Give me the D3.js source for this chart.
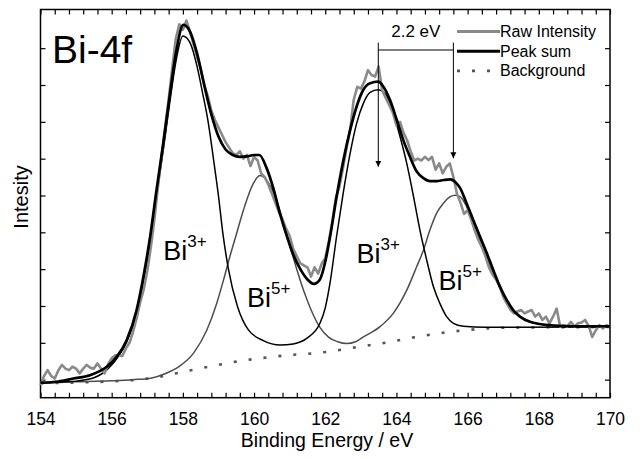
<!DOCTYPE html>
<html>
<head>
<meta charset="utf-8">
<script src="https://cdn.jsdelivr.net/npm/d3@7"></script>
<style>
  body { margin: 0; background: #fff; }
  svg text { font-family: Arial, "Liberation Sans", sans-serif; fill: #000; }
</style>
</head>
<body>
<svg id="chart" width="642" height="459"></svg>
<script>
// x axis: binding energy (eV), y axis: intensity (arbitrary units, no labels)
const energyLabels = [154, 156, 158, 160, 162, 164, 166, 168, 170];
const minorStep = 0.4;
const intensityTicks = [0, 1, 2, 3, 4, 5, 6, 7, 8, 9];

// measured spectrum, [energy, intensity]
const rawIntensity = [
  [154.0, -0.15], [154.1, 0.1], [154.2, 0.26], [154.3, 0.1], [154.4, 0.03], [154.5, 0.25], [154.6, 0.4], [154.7, 0.3],
  [154.8, 0.26], [154.9, 0.35], [155.0, 0.3], [155.1, 0.17], [155.2, 0.3], [155.3, 0.4], [155.4, 0.32], [155.5, 0.3],
  [155.6, 0.44], [155.7, 0.3], [155.8, 0.17], [155.9, 0.42], [156.0, 0.58], [156.1, 0.66], [156.2, 0.66], [156.3, 0.64],
  [156.4, 0.85], [156.5, 1.0], [156.6, 1.3], [156.7, 1.66], [156.8, 2.1], [156.9, 2.45], [157.0, 2.95], [157.1, 3.6],
  [157.2, 4.35], [157.3, 5.25], [157.4, 6.05], [157.5, 6.85], [157.6, 7.6], [157.7, 8.45], [157.8, 9.25], [157.9, 9.65],
  [158.0, 9.5], [158.1, 9.75], [158.2, 9.45], [158.3, 9.1], [158.4, 8.75], [158.5, 8.45], [158.6, 8.0], [158.7, 7.7],
  [158.8, 7.3], [158.9, 7.05], [159.0, 6.85], [159.1, 6.65], [159.2, 6.45], [159.3, 6.3], [159.4, 6.15], [159.5, 6.1],
  [159.6, 6.2], [159.7, 6.0], [159.8, 6.1], [159.9, 5.8], [160.0, 6.05], [160.1, 5.95], [160.2, 5.6], [160.3, 5.5],
  [160.4, 5.3], [160.5, 5.05], [160.6, 4.8], [160.7, 4.55], [160.8, 4.35], [160.9, 4.1], [161.0, 3.9], [161.1, 3.55],
  [161.2, 3.35], [161.3, 3.16], [161.4, 3.1], [161.5, 3.05], [161.6, 2.8], [161.7, 3.05], [161.8, 2.88], [161.9, 3.15],
  [162.0, 3.3], [162.1, 3.75], [162.2, 4.3], [162.3, 4.95], [162.4, 5.25], [162.5, 5.75], [162.6, 6.3], [162.7, 6.8],
  [162.8, 7.6], [162.9, 7.95], [163.0, 7.9], [163.1, 8.1], [163.2, 8.4], [163.3, 8.27], [163.4, 8.23], [163.5, 8.5],
  [163.6, 7.85], [163.7, 7.65], [163.8, 7.45], [163.9, 7.25], [164.0, 6.9], [164.1, 7.0], [164.2, 6.7], [164.3, 6.5],
  [164.4, 6.2], [164.5, 5.95], [164.6, 6.0], [164.7, 5.95], [164.8, 6.05], [164.9, 5.96], [165.0, 6.05], [165.1, 5.7],
  [165.2, 5.87], [165.3, 5.6], [165.4, 5.78], [165.5, 5.87], [165.6, 5.5], [165.7, 5.05], [165.8, 4.8], [165.9, 4.5],
  [166.0, 4.6], [166.1, 4.35], [166.2, 4.05], [166.3, 3.8], [166.4, 3.6], [166.5, 3.35], [166.6, 3.05], [166.7, 2.85],
  [166.8, 2.72], [166.9, 2.55], [167.0, 2.25], [167.1, 2.07], [167.2, 1.9], [167.3, 1.8], [167.4, 1.85], [167.5, 1.89],
  [167.6, 1.8], [167.7, 1.85], [167.8, 1.89], [167.9, 1.71], [168.0, 1.8], [168.1, 1.62], [168.2, 1.71], [168.3, 1.53],
  [168.4, 1.71], [168.5, 1.93], [168.6, 1.44], [168.7, 1.48], [168.8, 1.44], [168.9, 1.57], [169.0, 1.44], [169.1, 1.53],
  [169.2, 1.55], [169.3, 1.62], [169.4, 1.46], [169.5, 1.16], [169.6, 1.34], [169.7, 1.48], [169.8, 1.39], [169.9, 1.48],
  [170.0, 1.44]
];

// fitted envelope
const peakSum = [
  [154.0, -0.08], [154.5, -0.05], [154.92, 0.03], [155.39, 0.12], [155.86, 0.35], [156.14, 0.62], [156.42, 1.07],
  [156.7, 1.89], [156.89, 2.79], [157.08, 3.88], [157.26, 5.15], [157.45, 6.42], [157.64, 7.78], [157.82, 8.95],
  [158.01, 9.63], [158.2, 9.45], [158.4, 8.85], [158.6, 8.0], [158.8, 7.2], [159.0, 6.6], [159.2, 6.25], [159.4, 6.1],
  [159.6, 6.05], [159.8, 6.06], [160.0, 6.1], [160.15, 6.1], [160.35, 5.75], [160.54, 5.2], [160.73, 4.5],
  [160.92, 3.9], [161.1, 3.4], [161.3, 3.0], [161.5, 2.72], [161.68, 2.6], [161.85, 2.72], [162.0, 3.2],
  [162.13, 3.85], [162.32, 4.97], [162.51, 5.96], [162.7, 6.78], [162.88, 7.41], [163.07, 7.87], [163.26, 8.05],
  [163.49, 8.09], [163.63, 7.96], [163.82, 7.59], [164.01, 7.05], [164.19, 6.51], [164.38, 6.05], [164.57, 5.65],
  [164.76, 5.47], [164.94, 5.39], [165.13, 5.39], [165.32, 5.42], [165.51, 5.44], [165.69, 5.33], [165.79, 5.2],
  [165.97, 4.79], [166.16, 4.33], [166.35, 3.88], [166.54, 3.43], [166.72, 2.98], [166.91, 2.52], [167.1, 2.16],
  [167.28, 1.89], [167.47, 1.71], [167.75, 1.57], [168.03, 1.51], [168.41, 1.47], [168.97, 1.45], [170.0, 1.45]
];

// Bi3+ doublet component (on background)
const bi3Component = [
  [154.0, -0.09], [155.0, -0.04], [155.5, 0.05], [155.9, 0.3], [156.2, 0.65], [156.42, 1.02], [156.7, 1.8],
  [156.89, 2.68], [157.08, 3.74], [157.26, 4.98], [157.45, 6.24], [157.64, 7.58], [157.82, 8.72], [158.0, 9.33],
  [158.2, 9.15], [158.4, 8.5], [158.55, 7.8], [158.71, 7.0], [158.86, 5.99], [159.0, 4.99], [159.12, 4.0],
  [159.28, 3.0], [159.53, 2.0], [159.84, 1.35], [160.26, 1.06], [160.73, 0.94], [161.1, 0.97], [161.48, 1.12],
  [161.85, 1.53], [162.0, 1.95], [162.13, 2.6], [162.32, 3.9], [162.51, 5.1], [162.7, 6.15], [162.88, 6.95],
  [163.07, 7.5], [163.26, 7.8], [163.49, 7.87], [163.73, 7.69], [163.91, 7.23], [164.1, 6.6], [164.29, 5.87],
  [164.48, 4.97], [164.66, 4.06], [164.85, 3.25], [165.04, 2.52], [165.22, 2.07], [165.41, 1.71], [165.6, 1.53],
  [165.88, 1.45], [166.5, 1.42], [170.0, 1.43]
];

// Bi5+ doublet component (on background)
const bi5Component = [
  [154.0, -0.09], [155.0, -0.06], [156.0, -0.03], [156.6, 0.0], [157.1, 0.04], [157.5, 0.16], [157.9, 0.36],
  [158.3, 0.72], [158.67, 1.34], [158.95, 2.07], [159.14, 2.7], [159.32, 3.34], [159.51, 3.97], [159.7, 4.6],
  [159.98, 5.33], [160.17, 5.54], [160.4, 5.35], [160.6, 4.95], [160.8, 4.35], [161.0, 3.65], [161.2, 3.0],
  [161.4, 2.4], [161.6, 1.9], [161.85, 1.42], [162.1, 1.15], [162.35, 1.03], [162.6, 0.98], [162.85, 1.03],
  [163.07, 1.16], [163.54, 1.44], [163.91, 1.8], [164.29, 2.43], [164.57, 3.07], [164.76, 3.52], [164.94, 4.06],
  [165.13, 4.52], [165.32, 4.79], [165.51, 4.97], [165.65, 5.01], [165.79, 4.97], [165.97, 4.7], [166.16, 4.24],
  [166.35, 3.79], [166.54, 3.34], [166.72, 2.88], [166.91, 2.48], [167.1, 2.16], [167.28, 1.89], [167.47, 1.71],
  [167.75, 1.57], [168.03, 1.51], [168.41, 1.47], [170.0, 1.45]
];

// Shirley-type background
const background = [
  [154.0, -0.1], [155.0, -0.08], [156.0, -0.05], [156.8, 0.0], [157.3, 0.07], [157.6, 0.13], [158.0, 0.21],
  [158.5, 0.31], [159.0, 0.4], [159.5, 0.49], [160.0, 0.56], [160.5, 0.62], [161.0, 0.67], [161.5, 0.7],
  [162.0, 0.75], [162.5, 0.82], [163.0, 0.9], [163.5, 0.97], [164.0, 1.06], [164.5, 1.15], [165.0, 1.23],
  [165.5, 1.3], [166.0, 1.35], [166.5, 1.39], [167.0, 1.41], [168.0, 1.42], [170.0, 1.43]
];

// peak labels: [energy, intensity, charge]
const peakLabels = [[157.45, 3.25, "3+"], [159.8, 1.98, "5+"], [162.88, 3.16, "3+"], [165.18, 2.43, "5+"]];

// spin-orbit splitting marker: energies of the two Bi3+ lines, top/bar/tips
const splitEnergies = [163.49, 165.6];
const splitTop = 9.15, splitBar = 8.95, splitTips = [5.78, 6.01];

const svg = d3.select('#chart');
const x = d3.scaleLinear().domain([154, 170]).range([40.5, 610]);
const y = d3.scaleLinear().domain([-0.49, 10.05]).range([397.7, 9.5]);

const minorTicks = d3.range(0, 41).map(i => 154 + i * minorStep);
const isLabel = d => energyLabels.some(v => Math.abs(v - d) < 1e-6);

// axes
svg.append('g')
    .attr('transform', `translate(0,${y.range()[0]})`)
    .call(d3.axisBottom(x).tickValues(minorTicks)
        .tickFormat(d => isLabel(d) ? d3.format('d')(Math.round(d)) : '')
        .tickSizeInner(-5).tickSizeOuter(0).tickPadding(15))
    .call(g => g.selectAll('text').style('font-size', '17.5px'));

svg.append('g')
    .attr('transform', `translate(0,${y.range()[1]})`)
    .call(d3.axisTop(x).tickValues(minorTicks).tickFormat('').tickSizeInner(-5).tickSizeOuter(0));

svg.append('g')
    .attr('transform', `translate(${x.range()[0]},0)`)
    .call(d3.axisLeft(y).tickValues(intensityTicks).tickFormat('').tickSizeInner(-5).tickSizeOuter(0));

svg.append('g')
    .attr('transform', `translate(${x.range()[1]},0)`)
    .call(d3.axisRight(y).tickValues(intensityTicks).tickFormat('').tickSizeInner(-5).tickSizeOuter(0));

svg.selectAll('.domain').remove();
svg.selectAll('.tick line').attr('stroke', '#000').attr('stroke-width', 1.2);

svg.append('rect')
    .attr('x', x.range()[0]).attr('y', y.range()[1])
    .attr('width', x.range()[1] - x.range()[0])
    .attr('height', y.range()[0] - y.range()[1])
    .attr('fill', 'none').attr('stroke', '#000').attr('stroke-width', 1.5);

// curves
const smooth = d3.line().x(d => x(d[0])).y(d => y(d[1])).curve(d3.curveMonotoneX);
const jagged = d3.line().x(d => x(d[0])).y(d => y(d[1]));

svg.append('path').datum(background).attr('d', jagged)
    .attr('fill', 'none').attr('stroke', '#555').attr('stroke-width', 2.6)
    .attr('stroke-dasharray', '3 12');

svg.append('path').datum(bi5Component).attr('d', smooth)
    .attr('fill', 'none').attr('stroke', '#4d4d4d').attr('stroke-width', 1.5);

svg.append('path').datum(bi3Component).attr('d', smooth)
    .attr('fill', 'none').attr('stroke', '#000').attr('stroke-width', 1.5);

svg.append('path').datum(rawIntensity).attr('d', jagged)
    .attr('fill', 'none').attr('stroke', '#8a8a8a').attr('stroke-width', 2.6)
    .attr('stroke-linejoin', 'round');

svg.append('path').datum(peakSum).attr('d', smooth)
    .attr('fill', 'none').attr('stroke', '#000').attr('stroke-width', 2.7);

// peak labels
peakLabels.forEach(p => {
    const t = svg.append('text')
        .attr('x', x(p[0])).attr('y', y(p[1]))
        .style('font-size', '27px');
    t.append('tspan').text('Bi');
    t.append('tspan').attr('dy', -13).style('font-size', '17px').text(p[2]);
});

svg.append('text')
    .attr('x', 52).attr('y', 63)
    .style('font-size', '39px')
    .text('Bi-4f');

// splitting marker
const defs = svg.append('defs');
defs.append('marker')
    .attr('id', 'head').attr('viewBox', '0 0 10 10')
    .attr('refX', 10).attr('refY', 5)
    .attr('markerWidth', 6).attr('markerHeight', 11)
    .attr('markerUnits', 'userSpaceOnUse')
    .attr('orient', 'auto')
    .append('path').attr('d', 'M0,0L10,5L0,10Z').attr('fill', '#000');

splitEnergies.forEach((e, i) => {
    svg.append('line')
        .attr('x1', x(e)).attr('x2', x(e))
        .attr('y1', y(splitTop)).attr('y2', y(splitTips[i]))
        .attr('stroke', '#000').attr('stroke-width', 1)
        .attr('marker-end', 'url(#head)');
});
svg.append('line')
    .attr('x1', x(splitEnergies[0])).attr('x2', x(splitEnergies[1]))
    .attr('y1', y(splitBar)).attr('y2', y(splitBar))
    .attr('stroke', '#000').attr('stroke-width', 1);
svg.append('text')
    .attr('x', (x(splitEnergies[0]) + x(splitEnergies[1])) / 2)
    .attr('y', 36.7)
    .attr('text-anchor', 'middle')
    .style('font-size', '17px')
    .text('2.2 eV');

// legend
const legendItems = [
    { label: 'Raw Intensity', color: '#8a8a8a', width: 3, dash: null },
    { label: 'Peak sum', color: '#000', width: 3, dash: null },
    { label: 'Background', color: '#555', width: 2.6, dash: '3 12' }
];
legendItems.forEach((d, i) => {
    const ly = 31.5 + i * 19.7;
    svg.append('line')
        .attr('x1', 457).attr('x2', 500).attr('y1', ly).attr('y2', ly)
        .attr('stroke', d.color).attr('stroke-width', d.width)
        .attr('stroke-dasharray', d.dash);
    svg.append('text')
        .attr('x', 500).attr('y', ly + 5.3)
        .style('font-size', '16px')
        .text(d.label);
});

// axis titles
svg.append('text')
    .attr('x', 327).attr('y', 447)
    .attr('text-anchor', 'middle')
    .style('font-size', '19.5px')
    .text('Binding Energy / eV');

svg.append('text')
    .attr('transform', 'translate(28,197) rotate(-90)')
    .attr('text-anchor', 'middle')
    .style('font-size', '20px')
    .text('Intesity');
</script>
</body>
</html>
